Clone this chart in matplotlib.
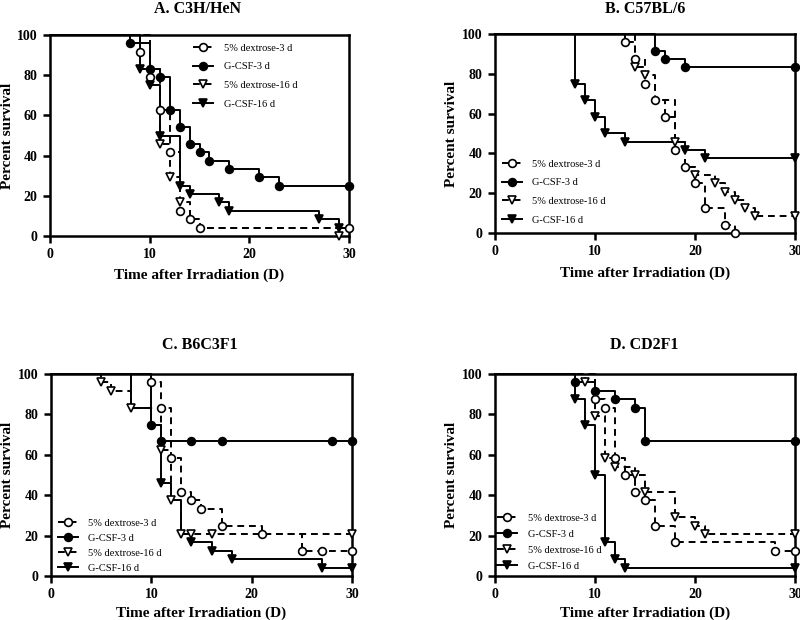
import matplotlib
matplotlib.use("Agg")
import matplotlib.pyplot as plt
from matplotlib.lines import Line2D

plt.rcParams['font.family'] = ['Liberation Serif', 'DejaVu Serif']
plt.rcParams['font.weight'] = 'bold'

# ---------------- data (percent survival, event days) ----------------
LABELS = ["5% dextrose-3 d", "G-CSF-3 d", "5% dextrose-16 d", "G-CSF-16 d"]
TITLES = ["A. C3H/HeN", "B. C57BL/6", "C. B6C3F1", "D. CD2F1"]
X_TICKS = [0, 10, 20, 30]
Y_TICKS = [0, 20, 40, 60, 80, 100]

# Panel A
A_DEX3_T = [9, 10, 11, 12, 13, 14, 15, 30]
A_DEX3_S = [91.7, 79.2, 62.5, 41.7, 12.5, 8.3, 4.2, 4.2]
A_GCSF3_T = [8, 10, 11, 12, 13, 14, 15, 16, 18, 21, 23, 30]
A_GCSF3_S = [95.8, 83.3, 79.2, 62.5, 54.2, 45.8, 41.7, 37.5, 33.3, 29.2, 25, 25]
A_DEX16_T = [10, 11, 12, 13, 14, 15, 29]
A_DEX16_S = [83.3, 45.8, 29.2, 16.7, 8.3, 4.2, 0]
A_DEX16_NOMARK = [10, 14, 15]
A_GCSF16_T = [9, 10, 11, 13, 14, 17, 18, 27, 29, 30]
A_GCSF16_S = [83.3, 75, 50, 25, 20.8, 16.7, 12.5, 8.3, 4.2, 4.2]
A_GCSF16_NOMARK = [30]

# Panel B
B_DEX3_T = [13, 14, 15, 16, 17, 18, 19, 20, 21, 23, 24]
B_DEX3_S = [95.8, 87.5, 75, 66.7, 58.3, 41.7, 33.3, 25, 12.5, 4.2, 0]
B_GCSF3_T = [16, 17, 19, 30]
B_GCSF3_S = [91.7, 87.5, 83.3, 83.3]
B_DEX16_T = [14, 15, 16, 18, 19, 20, 22, 23, 24, 25, 26, 30]
B_DEX16_S = [83.3, 79.2, 66.7, 45.8, 33.3, 29.2, 25, 20.8, 16.7, 12.5, 8.3, 8.3]
B_DEX16_NOMARK = [16, 19]
B_GCSF16_T = [8, 9, 10, 11, 13, 19, 21, 30]
B_GCSF16_S = [75, 66.7, 58.3, 50, 45.8, 41.7, 37.5, 37.5]

# Panel C
C_DEX3_T = [10, 11, 12, 13, 14, 15, 17, 21, 25, 27, 30]
C_DEX3_S = [95.8, 83.3, 58.3, 41.7, 37.5, 33.3, 25, 20.8, 12.5, 12.5, 12.5]
C_GCSF3_T = [10, 11, 14, 17, 28, 30]
C_GCSF3_S = [75, 66.7, 66.7, 66.7, 66.7, 66.7]
C_DEX16_T = [5, 6, 8, 11, 12, 13, 14, 16, 30]
C_DEX16_S = [95.8, 91.7, 83.3, 62.5, 37.5, 20.8, 20.8, 20.8, 20.8]
C_GCSF16_T = [8, 10, 11, 12, 13, 14, 16, 18, 27, 30]
C_GCSF16_S = [83.3, 75, 45.8, 37.5, 20.8, 16.7, 12.5, 8.3, 4.2, 4.2]
C_GCSF16_NOMARK = [8, 10, 12, 13]

# Panel D
D_DEX3_T = [10, 11, 12, 13, 14, 15, 16, 18, 28, 30]
D_DEX3_S = [87.5, 83.3, 58.3, 50, 41.7, 37.5, 25, 16.7, 12.5, 12.5]
D_GCSF3_T = [8, 10, 12, 14, 15, 30]
D_GCSF3_S = [95.8, 91.7, 87.5, 83.3, 66.7, 66.7]
D_DEX16_T = [9, 10, 11, 12, 14, 15, 18, 20, 21, 30]
D_DEX16_S = [95.8, 79.2, 58.3, 54.2, 50, 41.7, 29.2, 25, 20.8, 20.8]
D_GCSF16_T = [8, 9, 10, 11, 12, 13, 30]
D_GCSF16_S = [87.5, 75, 50, 16.7, 8.3, 4.2, 4.2]

PANELS = [
    [(A_DEX3_T, A_DEX3_S, []), (A_GCSF3_T, A_GCSF3_S, []),
     (A_DEX16_T, A_DEX16_S, A_DEX16_NOMARK), (A_GCSF16_T, A_GCSF16_S, A_GCSF16_NOMARK)],
    [(B_DEX3_T, B_DEX3_S, []), (B_GCSF3_T, B_GCSF3_S, []),
     (B_DEX16_T, B_DEX16_S, B_DEX16_NOMARK), (B_GCSF16_T, B_GCSF16_S, [])],
    [(C_DEX3_T, C_DEX3_S, []), (C_GCSF3_T, C_GCSF3_S, []),
     (C_DEX16_T, C_DEX16_S, []), (C_GCSF16_T, C_GCSF16_S, C_GCSF16_NOMARK)],
    [(D_DEX3_T, D_DEX3_S, []), (D_GCSF3_T, D_GCSF3_S, []),
     (D_DEX16_T, D_DEX16_S, []), (D_GCSF16_T, D_GCSF16_S, [])],
]

# ---------------- styles ----------------
DASH = (0, (3.5, 2.5))
STYLES = [
    dict(ls=DASH, marker='o', mfc='white', ms=5.6),
    dict(ls='-', marker='o', mfc='black', ms=5.6),
    dict(ls=DASH, marker='v', mfc='white', ms=6),
    dict(ls='-', marker='v', mfc='black', ms=6),
]

W, H = 800, 620
fig = plt.figure(figsize=(W / 100, H / 100), dpi=100)

# axes boxes in pixels: left, right, top, bottom
BOXES = [(50, 349, 35, 236), (495, 795, 34, 233), (51, 352, 374, 576), (495, 795, 374, 576)]
TITLE_POS = [(198, 9), (645, 9), (200, 345), (644, 345)]
XLAB_Y = [275, 273, 613, 613]
YLAB_X = [8, 452, 8, 452]
LEG_POS = [(186, 36), (495, 152), (51, 511), (490, 506)]
LEG_SPACING = [0.9, 0.9, 0.55, 0.65]

for k, (box, series) in enumerate(zip(BOXES, PANELS)):
    l, r, t, b = box
    ax = fig.add_axes([l / W, 1 - b / H, (r - l) / W, (b - t) / H])
    for (tt, ss, nomark), st in zip(series, STYLES):
        xs = [0] + list(tt)
        ys = [100] + list(ss)
        ax.plot(xs, ys, drawstyle='steps-post', color='black', lw=1.4,
                linestyle=st['ls'], clip_on=False, zorder=2)
        mx = [x for x in tt if x not in nomark]
        my = [y for x, y in zip(tt, ss) if x not in nomark]
        ax.plot(mx, my, ls='none', marker=st['marker'], mfc=st['mfc'],
                mec='black', mew=1.2, ms=st['ms'], clip_on=False, zorder=3)
    ax.set_xlim(0, 30)
    ax.set_ylim(0, 100)
    ax.set_xticks(X_TICKS)
    ax.set_yticks(Y_TICKS)
    ax.tick_params(direction='out', length=5, width=1.8, labelsize=10, pad=4)
    for lab in ax.get_xticklabels() + ax.get_yticklabels():
        lab.set_fontweight('bold')
    for sp in ax.spines.values():
        sp.set_linewidth(1.8)
    fig.text(TITLE_POS[k][0] / W, 1 - TITLE_POS[k][1] / H, TITLES[k],
             ha='center', va='center', fontsize=11.5, fontweight='bold')
    fig.text((l + r) / 2 / W, 1 - XLAB_Y[k] / H, "Time after Irradiation (D)",
             ha='center', va='center', fontsize=11, fontweight='bold')
    fig.text(YLAB_X[k] / W, 1 - ((t + b) / 2) / H, "Percent survival",
             ha='center', va='center', rotation=90, fontsize=11, fontweight='bold')
    handles = [Line2D([], [], color='black', lw=1.4, linestyle=st['ls'],
                      marker=st['marker'], mfc=st['mfc'], mec='black', mew=1.2,
                      ms=st['ms']) for st in STYLES]
    leg = ax.legend(handles, LABELS, loc='upper left',
                    bbox_to_anchor=(LEG_POS[k][0] / W, 1 - LEG_POS[k][1] / H),
                    bbox_transform=fig.transFigure, frameon=False,
                    prop=dict(family='Liberation Serif', weight='normal', size=7.5),
                    handlelength=1.9, handletextpad=1.0,
                    labelspacing=LEG_SPACING[k], borderpad=0.2)

fig.savefig("out.png", dpi=100)
